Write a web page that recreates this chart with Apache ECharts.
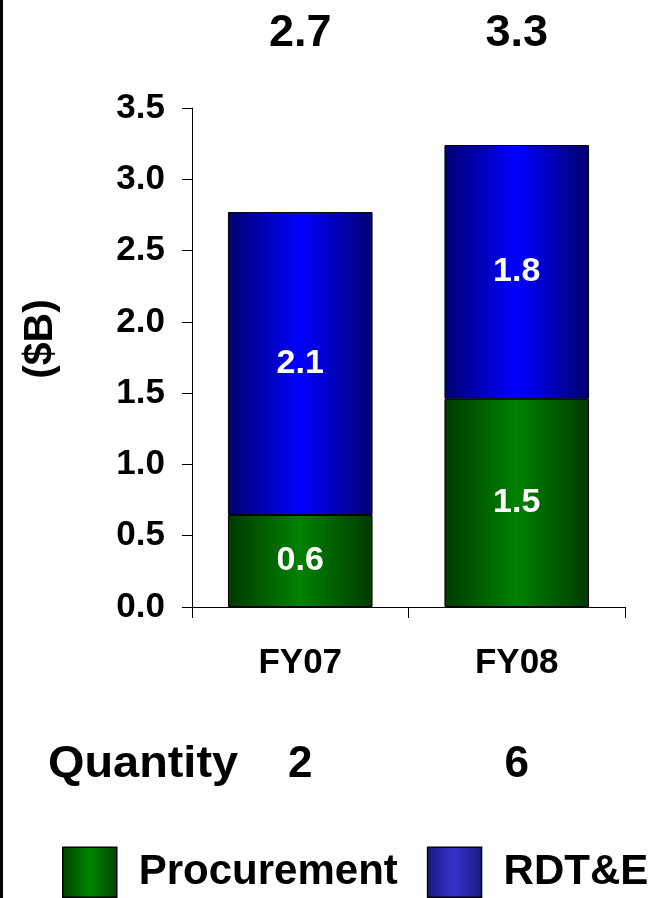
<!DOCTYPE html>
<html><head><meta charset="utf-8">
<script src="https://cdn.jsdelivr.net/npm/echarts@6/dist/echarts.min.js"></script>
<style>html,body{margin:0;padding:0;background:#fff}#c{width:654px;height:898px}</style>
</head><body><div id="c"></div>
<script>
const categories = ['FY07', 'FY08'];
const procurement = [0.645, 1.46];
const rdte = [2.125, 1.78];
const procurementLabels = ['0.6', '1.5'];
const rdteLabels = ['2.1', '1.8'];
const totalLabels = ['2.7', '3.3'];
const quantities = ['2', '6'];
const yTicks = [0, 0.5, 1, 1.5, 2, 2.5, 3, 3.5];

const FONT = 'Liberation Sans, Arial, sans-serif';
const greenGrad = new echarts.graphic.LinearGradient(0,0,1,0,[
  {offset:0,color:'#003a00'},{offset:0.5,color:'#008200'},{offset:1,color:'#003a00'}]);
const blueGrad = new echarts.graphic.LinearGradient(0,0,1,0,[
  {offset:0,color:'#000070'},{offset:0.5,color:'#0000ff'},{offset:1,color:'#000070'}]);
const greenLeg = new echarts.graphic.LinearGradient(0,0,1,0,[
  {offset:0,color:'#004400'},{offset:0.5,color:'#008400'},{offset:1,color:'#004400'}]);
const blueLeg = new echarts.graphic.LinearGradient(0,0,1,0,[
  {offset:0,color:'#1a1a80'},{offset:0.5,color:'#3333cc'},{offset:1,color:'#1a1a80'}]);

const chart = echarts.init(document.getElementById('c'), null, {renderer:'canvas'});
const labelStyle = {show:true, position:'inside', color:'#fff', fontFamily:FONT, fontWeight:'bold', fontSize:34};
chart.setOption({
  animation:false,
  grid:{left:192, right:29, top:108, bottom:291},
  legend:{
    bottom:0, left:62, padding:0, icon:'rect', itemWidth:54, itemHeight:50, itemGap:29,
    textStyle:{fontFamily:FONT, fontWeight:'bold', fontSize:42, lineHeight:50, color:'#000', padding:[0,0,0,17]},
    data:[
      {name:'Procurement', itemStyle:{color:greenLeg, borderColor:'#000', borderWidth:1.5}},
      {name:'RDT&E', itemStyle:{color:blueLeg, borderColor:'#000', borderWidth:1.5}}
    ]
  },
  xAxis:{
    type:'category', data:categories,
    axisLine:{lineStyle:{color:'#000', width:1}},
    axisTick:{show:true, length:11, lineStyle:{color:'#000'}},
    axisLabel:{fontFamily:FONT, fontWeight:'bold', fontSize:35, color:'#000', margin:39}
  },
  yAxis:{
    type:'value', min:0, max:3.5, interval:0.5,
    axisLine:{show:true, lineStyle:{color:'#000'}},
    axisTick:{show:true, length:10, lineStyle:{color:'#000'}},
    splitLine:{show:false},
    axisLabel:{fontFamily:FONT, fontWeight:'bold', fontSize:35, color:'#000', margin:27,
      formatter:v=>v.toFixed(1)}
  },
  series:[
    {name:'Procurement', type:'bar', stack:'t', barWidth:'66.8%',
     data:procurement, itemStyle:{color:greenGrad, borderColor:'#000', borderWidth:1},
     label:Object.assign({}, labelStyle, {formatter:p=>procurementLabels[p.dataIndex]})},
    {name:'RDT&E', type:'bar', stack:'t', barWidth:'66.8%',
     data:rdte, itemStyle:{color:blueGrad, borderColor:'#000', borderWidth:1},
     label:Object.assign({}, labelStyle, {formatter:p=>rdteLabels[p.dataIndex]})}
  ]
});

const g = [{type:'rect', left:0, top:0, shape:{x:0,y:0,width:3,height:898}, style:{fill:'#000'}}];
categories.forEach((c,i)=>{
  const x = chart.convertToPixel({xAxisIndex:0}, c);
  g.push({type:'text', x:x, y:34, style:{text:totalLabels[i], fontFamily:FONT, fontWeight:'bold', fontSize:45, fill:'#000', align:'center', verticalAlign:'middle'}});
  g.push({type:'text', x:x, y:765, style:{text:quantities[i], fontFamily:FONT, fontWeight:'bold', fontSize:44, fill:'#000', align:'center', verticalAlign:'middle'}});
});
g.push({type:'text', x:48, y:765, scaleX:1.065, style:{text:'Quantity', fontFamily:FONT, fontWeight:'bold', fontSize:44, fill:'#000', align:'left', verticalAlign:'middle'}});
g.push({type:'text', x:41, y:339, rotation:Math.PI/2, style:{text:'($B)', fontFamily:FONT, fontWeight:'bold', fontSize:41, fill:'#000', align:'center', verticalAlign:'middle'}});
chart.setOption({graphic:g});
</script></body></html>
